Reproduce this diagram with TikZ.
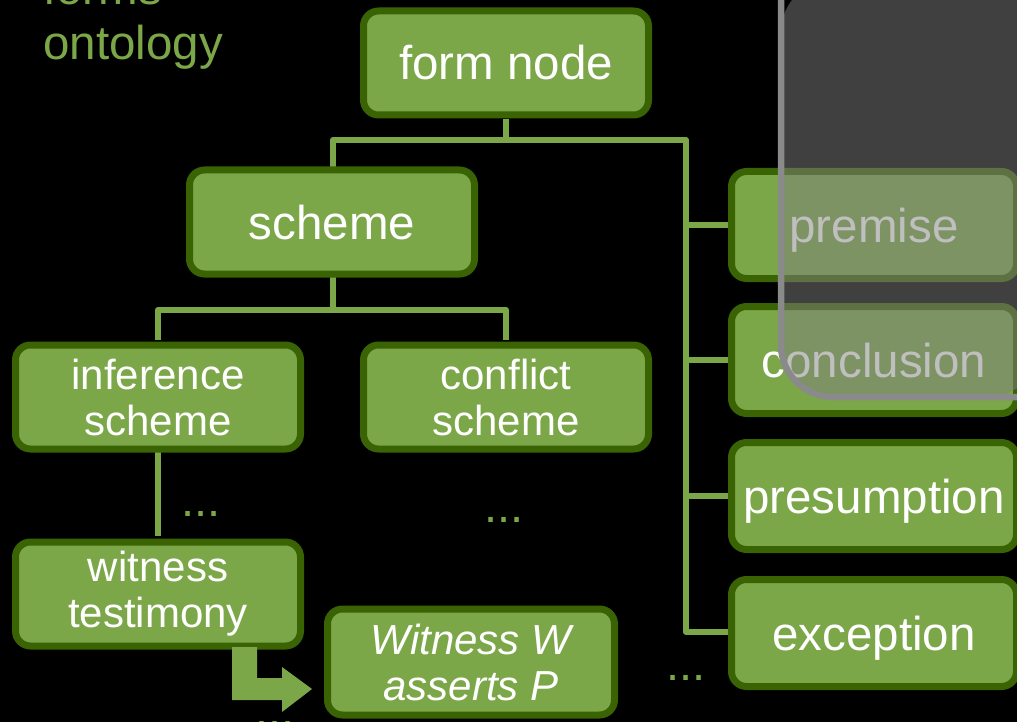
\documentclass[tikz,border=0pt]{standalone}
\usepackage{fontspec}
\setmainfont{Liberation Sans}
\definecolor{leaf}{RGB}{124,167,73}
\definecolor{bark}{RGB}{58,99,4}
\definecolor{veil}{RGB}{128,128,128}
\definecolor{rim}{RGB}{138,138,138}
\tikzset{
  box/.style={draw=bark, fill=leaf, line width=7pt, rounded corners=15pt,
    minimum width=285pt, minimum height=104pt, text=white, align=center,
    inner sep=0pt},
  bigtext/.style={font=\fontsize{47.5}{52}\selectfont, text height=34pt, text depth=0pt},
  smalltext/.style={font=\fontsize{42}{46}\selectfont},
  conn/.style={draw=leaf, line width=6pt, line join=round},
  more/.style={text=leaf, font=\fontsize{47}{52}\selectfont, anchor=base, inner sep=0pt},
}
\begin{document}
\begin{tikzpicture}[x=1pt, y=-1pt]
  \fill[black] (0,0) rectangle (1017,722);
  \useasboundingbox (0,0) rectangle (1017,722);

  % heading
  \node[anchor=base west, inner sep=0pt, text=leaf, font=\fontsize{47.5}{52}\selectfont] (hdA) at (43,5) {forms};
  \node[anchor=base west, inner sep=0pt, text=leaf, font=\fontsize{47.5}{52}\selectfont] (hdB) at (43,60) {ontology};

  % connectors
  \coordinate (trunk) at (686,140);
  \coordinate (fork) at (333,310);
  \draw[conn] (506,119) -- (506,140) -| (333,167);
  \draw[conn] (506,140) -- (trunk) -- (686,632) -- (728,632);
  \draw[conn] (686,225) -- (728,225);
  \draw[conn] (686,360) -- (728,360);
  \draw[conn] (686,496) -- (728,496);
  \draw[conn] (333,277) -- (fork) -| (158,340);
  \draw[conn] (fork) -| (506,340);
  \draw[conn] (158,451) -- (158,536);

  % boxes
  \node[box, bigtext] (form) at (506,63) {form node};
  \node[box, bigtext] (scheme) at (332,222) {scheme};
  \node[box, smalltext] (infer) at (158,397) {inference\\scheme};
  \node[box, smalltext] (confl) at (506,397) {conflict\\scheme};
  \node[box, smalltext] (testi) at (158,594) {witness\\testimony};
  \node[box, smalltext, minimum width=287pt, minimum height=106pt] (claim) at (471,662) {\itshape Witness W\\\itshape asserts P};
  \node[box, bigtext, minimum height=107pt] (prem) at (874,225) {premise};
  \node[box, bigtext, minimum height=107pt] (concl) at (874,360) {conclusion};
  \node[box, bigtext, minimum height=107pt] (presu) at (874,496) {presumption};
  \node[box, bigtext, minimum height=107pt] (excep) at (874,633) {exception};

  % block arrow from testimony to the instance
  \fill[leaf] (232,647) -- (257,647) -- (257,678) -- (282,678) -- (282,667)
    -- (312,689) -- (282,712) -- (282,700) -- (232,700) -- cycle;

  % ellipses
  \node[more] (m1) at (201,516) {...};
  \node[more] (m2) at (504,522) {...};
  \node[more] (m3) at (686,680) {...};
  \node[more] (m4) at (275,726) {...};

  % translucent panel on the right
  \fill[veil, opacity=0.5, rounded corners=52pt] (781,-20) -- (781,397) -- (1040,397) -- (1040,-20) -- cycle;
  \draw[rim, line width=6.5pt, rounded corners=52pt] (781,-20) -- (781,397) -- (1040,397);
\end{tikzpicture}
\end{document}
